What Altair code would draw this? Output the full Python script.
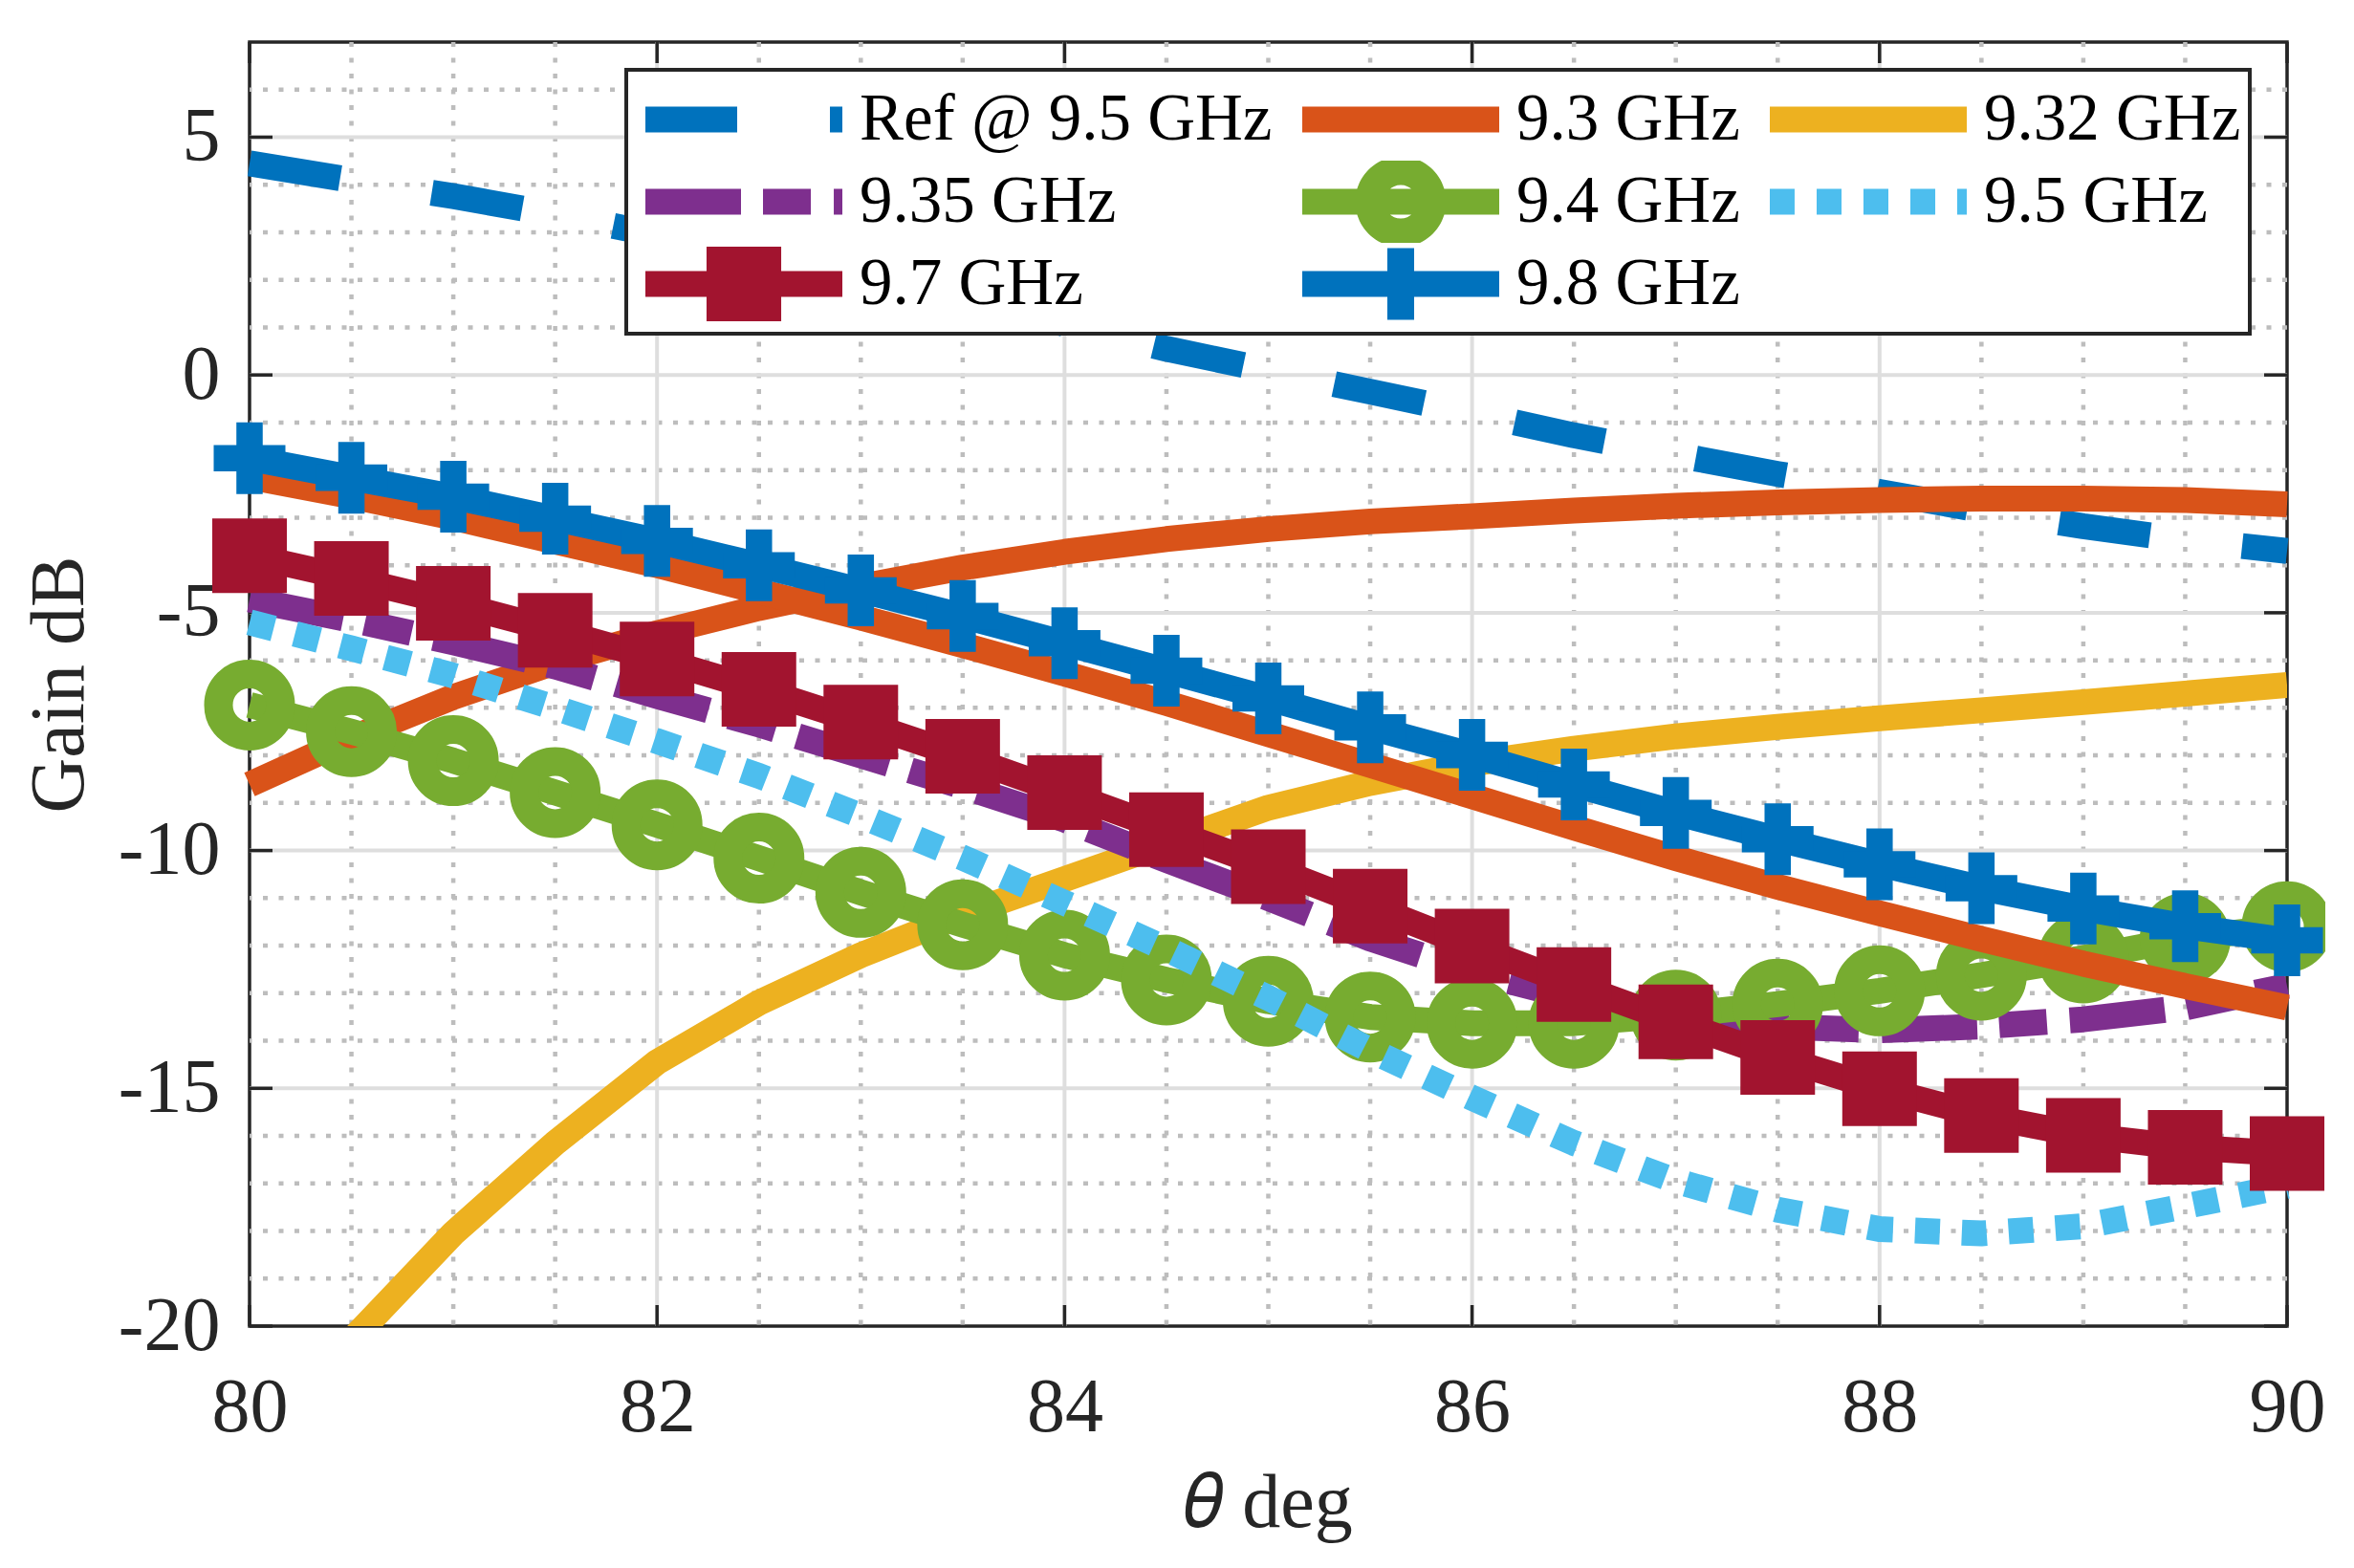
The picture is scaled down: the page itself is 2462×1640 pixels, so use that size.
import altair as alt
import pandas as pd

# ---------------- data ----------------
THETA = [80.0, 80.5, 81.0, 81.5, 82.0, 82.5, 83.0, 83.5, 84.0, 84.5, 85.0,
         85.5, 86.0, 86.5, 87.0, 87.5, 88.0, 88.5, 89.0, 89.5, 90.0]

REF_95 = [4.45, 4.10, 3.76, 3.38, 2.95, 2.50, 2.05, 1.57, 1.07, 0.55, 0.10,
          -0.35, -0.80, -1.27, -1.68, -2.08, -2.46, -2.84, -3.18, -3.47, -3.70]
G_930 = [-8.61, -7.64, -6.77, -6.04, -5.43, -4.90, -4.45, -4.05, -3.72, -3.45, -3.24,
         -3.08, -2.97, -2.85, -2.75, -2.68, -2.63, -2.60, -2.60, -2.63, -2.72]
G_932 = [-22.8, -20.3, -18.05, -16.15, -14.45, -13.2, -12.2, -11.35, -10.6, -9.85, -9.1,
         -8.58, -8.17, -7.86, -7.6, -7.4, -7.22, -7.05, -6.88, -6.7, -6.52]
G_935 = [-4.72, -5.15, -5.62, -6.13, -6.75, -7.35, -8.0, -8.65, -9.35, -10.2, -11.0,
         -11.85, -12.55, -13.1, -13.5, -13.7, -13.78, -13.7, -13.55, -13.3, -12.85]
G_940 = [-6.94, -7.50, -8.11, -8.78, -9.46, -10.16, -10.88, -11.56, -12.2, -12.72, -13.17,
         -13.5, -13.63, -13.63, -13.46, -13.23, -12.95, -12.62, -12.26, -11.85, -11.6]
G_950 = [-5.2, -5.75, -6.32, -7.0, -7.7, -8.43, -9.27, -10.15, -11.1, -12.07, -13.1,
         -14.2, -15.2, -16.15, -16.95, -17.55, -17.96, -18.05, -17.9, -17.48, -17.05]
G_970 = [-3.80, -4.28, -4.80, -5.37, -5.97, -6.61, -7.30, -8.02, -8.78, -9.56, -10.34,
         -11.17, -12.01, -12.82, -13.6, -14.35, -15.01, -15.57, -15.99, -16.24, -16.37]
G_980 = [-1.75, -2.16, -2.56, -3.02, -3.49, -4.0, -4.53, -5.07, -5.64, -6.22, -6.8,
         -7.41, -7.99, -8.61, -9.21, -9.76, -10.29, -10.79, -11.22, -11.59, -11.89]
# ninth curve (same orange, not listed in the legend)
G_EXTRA = [-2.14, -2.55, -3.0, -3.5, -4.0, -4.55, -5.1, -5.68, -6.28, -6.9, -7.55,
           -8.2, -8.86, -9.52, -10.16, -10.76, -11.32, -11.86, -12.38, -12.85, -13.3]

SERIES = ["Ref @ 9.5 GHz", "9.3 GHz", "9.32 GHz", "9.35 GHz",
          "9.4 GHz", "9.5 GHz", "9.7 GHz", "9.8 GHz"]
EXTRA_NAME = "extra"

TICKS_X = [80, 82, 84, 86, 88, 90]
TICKS_Y = [5, 0, -5, -10, -15, -20]
MAJOR_X = [82, 84, 86, 88]
MAJOR_Y = [5, 0, -5, -10, -15]
MINOR_X = [80.5, 81, 81.5, 82.5, 83, 83.5, 84.5, 85, 85.5, 86.5, 87, 87.5, 88.5, 89, 89.5]
MINOR_Y = [6, 4, 3, 2, 1, -1, -2, -3, -4, -6, -7, -8, -9, -11, -12, -13, -14,
           -16, -17, -18, -19]

# ---------------- styles ----------------
BLUE, ORANGE, YELLOW, PURPLE = "#0072BD", "#D95319", "#EDB120", "#7E2F8E"
GREEN, LIGHTBLUE, MAROON = "#77AC30", "#4DBEEE", "#A2142F"
DARK = "#262626"
FONT = "Liberation Serif"
W, H = 2131, 1343
LW = 27

# ---------------- legend symbol paths (line + marker, unit box -1..1) ----------------
T = 0.131


def rect(x0, x1, h=T):
    return f"M{x0},{-h}H{x1}V{h}H{x0}Z"


def ring(ro, ri):
    outer = f"M{ro},0A{ro},{ro} 0 1,1 {-ro},0A{ro},{ro} 0 1,1 {ro},0Z"
    inner = f"M{ri},0A{ri},{ri} 0 1,0 {-ri},0A{ri},{ri} 0 1,0 {ri},0Z"
    return outer + inner


P_REF = rect(-1, -0.068) + rect(0.874, 1)
P_SOLID = rect(-1, 1)
P_DASHDOT = rect(-1, -0.029) + rect(0.194, 0.680) + rect(0.913, 1)
P_CIRCLE = rect(-1, 1) + ring(0.461, 0.17)
P_DOT = (rect(-1, -0.748) + rect(-0.524, -0.272) + rect(-0.049, 0.204)
         + rect(0.427, 0.680) + rect(0.903, 1))
P_SQUARE = rect(-1, 1) + "M-0.379,-0.379H0.379V0.379H-0.379Z"
P_PLUS = rect(-1, 1) + "M-0.136,-0.364H0.136V0.364H-0.136Z"

STYLE = {
    SERIES[0]: (BLUE, P_REF),
    SERIES[1]: (ORANGE, P_SOLID),
    SERIES[2]: (YELLOW, P_SOLID),
    SERIES[3]: (PURPLE, P_DASHDOT),
    SERIES[4]: (GREEN, P_CIRCLE),
    SERIES[5]: (LIGHTBLUE, P_DOT),
    SERIES[6]: (MAROON, P_SQUARE),
    SERIES[7]: (BLUE, P_PLUS),
}
# the legend grid is filled column by column: order so that rows read like the original
LEGEND_ORDER = [SERIES[0], SERIES[3], SERIES[6],
                SERIES[1], SERIES[4], SERIES[7],
                SERIES[2], SERIES[5]]
LEG_COLORS = [STYLE[s][0] for s in LEGEND_ORDER]
LEG_PATHS = [STYLE[s][1] for s in LEGEND_ORDER]

CROSS_PATH = "M-1,-0.367H-0.367V-1H0.367V-0.367H1V0.367H0.367V1H-0.367V0.367H-1Z"

# ---------------- tables ----------------
rows = []
for name, vals in [(SERIES[0], REF_95), (SERIES[1], G_930), (SERIES[2], G_932),
                   (SERIES[3], G_935), (SERIES[4], G_940), (SERIES[5], G_950),
                   (SERIES[6], G_970), (SERIES[7], G_980), (EXTRA_NAME, G_EXTRA)]:
    for t, g in zip(THETA, vals):
        rows.append({"theta": t, "gain": g, "series": name})
df = pd.DataFrame(rows)

df_minor_x = pd.DataFrame({"theta": MINOR_X})
df_minor_y = pd.DataFrame({"gain": MINOR_Y})
df_major_x = pd.DataFrame({"theta": MAJOR_X})
df_major_y = pd.DataFrame({"gain": MAJOR_Y})
df_tick_x = pd.DataFrame({"theta": TICKS_X})
df_tick_y = pd.DataFrame({"gain": TICKS_Y})

# ---------------- scales & axes ----------------
xs = alt.Scale(domain=[80, 90], nice=False, zero=False)
ys = alt.Scale(domain=[-20, 7], nice=False, zero=False)

xaxis = alt.Axis(values=TICKS_X, title="\U0001D703 deg", ticks=False, tickSize=0,
                 domain=False, grid=False, labelFont=FONT, labelFontSize=80,
                 labelColor=DARK, labelPadding=46, labelFlush=False, labelOverlap=False,
                 titleFont=FONT, titleFontSize=80, titleFontWeight="normal",
                 titleColor=DARK, titlePadding=21)
yaxis = alt.Axis(values=TICKS_Y, title="Gain dB", ticks=False, tickSize=0,
                 domain=False, grid=False, labelFont=FONT, labelFontSize=80,
                 labelColor=DARK, labelPadding=31, labelFlush=False, labelOverlap=False,
                 labelExpr="'' + datum.value",
                 titleFont=FONT, titleFontSize=80, titleFontWeight="normal",
                 titleColor=DARK, titlePadding=20)

X = alt.X("theta:Q", scale=xs, axis=xaxis)
Y = alt.Y("gain:Q", scale=ys, axis=yaxis)

# ---------------- layers ----------------
minor_x = alt.Chart(df_minor_x).mark_rule(color="#BDBDBD", strokeWidth=4.5,
                                          strokeDash=[5, 11.5]).encode(x=X)
minor_y = alt.Chart(df_minor_y).mark_rule(color="#BDBDBD", strokeWidth=4.5,
                                          strokeDash=[5, 11.5]).encode(y=Y)
major_x = alt.Chart(df_major_x).mark_rule(color="#DEDEDE", strokeWidth=4).encode(x=X)
major_y = alt.Chart(df_major_y).mark_rule(color="#DEDEDE", strokeWidth=4).encode(y=Y)

tick_b = alt.Chart(df_tick_x).mark_rule(color=DARK, strokeWidth=3.5).encode(
    x=X, y=alt.value(H), y2=alt.value(H - 22))
tick_t = alt.Chart(df_tick_x).mark_rule(color=DARK, strokeWidth=3.5).encode(
    x=X, y=alt.value(0), y2=alt.value(22))
tick_l = alt.Chart(df_tick_y).mark_rule(color=DARK, strokeWidth=3.5).encode(
    y=Y, x=alt.value(0), x2=alt.value(24))
tick_r = alt.Chart(df_tick_y).mark_rule(color=DARK, strokeWidth=3.5).encode(
    y=Y, x=alt.value(W), x2=alt.value(W - 24))


def line_layer(name, color, dash=None, clip=False):
    kw = dict(color=color, strokeWidth=LW, strokeJoin="round", clip=clip, opacity=1)
    if dash:
        kw["strokeDash"] = dash
    return (alt.Chart(df).transform_filter(alt.datum.series == name)
            .mark_line(**kw).encode(x=X, y=Y))


def marker_layer(name, **kw):
    return (alt.Chart(df).transform_filter(alt.datum.series == name)
            .mark_point(opacity=1, **kw).encode(x=X, y=Y))


l_ref = line_layer(SERIES[0], BLUE, dash=[96, 97])
l_930 = line_layer(SERIES[1], ORANGE)
l_932 = line_layer(SERIES[2], YELLOW, clip=True)
l_935 = line_layer(SERIES[3], PURPLE, dash=[100, 23, 50, 24])
l_940 = line_layer(SERIES[4], GREEN)
m_940 = marker_layer(SERIES[4], shape="circle", size=4225, filled=False,
                     stroke=GREEN, strokeWidth=30)
l_950 = line_layer(SERIES[5], LIGHTBLUE, dash=[26, 23])
l_970 = line_layer(SERIES[6], MAROON)
m_970 = marker_layer(SERIES[6], shape="square", size=6084, filled=True,
                     color=MAROON, strokeWidth=0)
l_extra = line_layer(EXTRA_NAME, ORANGE)
l_980 = line_layer(SERIES[7], BLUE)
m_980 = marker_layer(SERIES[7], shape=CROSS_PATH, size=5625, filled=True,
                     color=BLUE, strokeWidth=0)

LEG = alt.Legend(title=None, orient="none", legendX=394, legendY=29, columns=3,
                 symbolSize=42436, symbolStrokeWidth=0, symbolOffset=11,
                 labelFont=FONT, labelFontSize=69, labelColor="black",
                 labelOffset=18, labelLimit=0, clipHeight=86, rowPadding=0,
                 columnPadding=20, padding=9, fillColor="white", strokeColor=DARK)

legend_layer = (alt.Chart(df).transform_filter("false")
                .mark_point(filled=True, opacity=1, strokeWidth=0)
                .encode(x=X, y=Y,
                        color=alt.Color("series:N",
                                        scale=alt.Scale(domain=LEGEND_ORDER,
                                                        range=LEG_COLORS),
                                        sort=LEGEND_ORDER, legend=LEG),
                        shape=alt.Shape("series:N",
                                        scale=alt.Scale(domain=LEGEND_ORDER,
                                                        range=LEG_PATHS),
                                        sort=LEGEND_ORDER, legend=LEG)))

chart = alt.layer(
    minor_x, minor_y, major_x, major_y,
    tick_b, tick_t, tick_l, tick_r,
    l_ref, l_930, l_932, l_935, l_940, m_940, l_950, l_970, m_970,
    l_extra, l_980, m_980, legend_layer,
).properties(
    width=W, height=H,
    autosize=alt.AutoSizeParams(type="none"),
    padding={"left": 253, "top": 36, "right": 40, "bottom": 230},
    background="white",
).configure_view(
    stroke=DARK, strokeWidth=3.5, fill="white"
).configure_legend(
    strokeWidth=4
)

chart.save("out.html", embed_options={"renderer": "svg", "actions": False})
